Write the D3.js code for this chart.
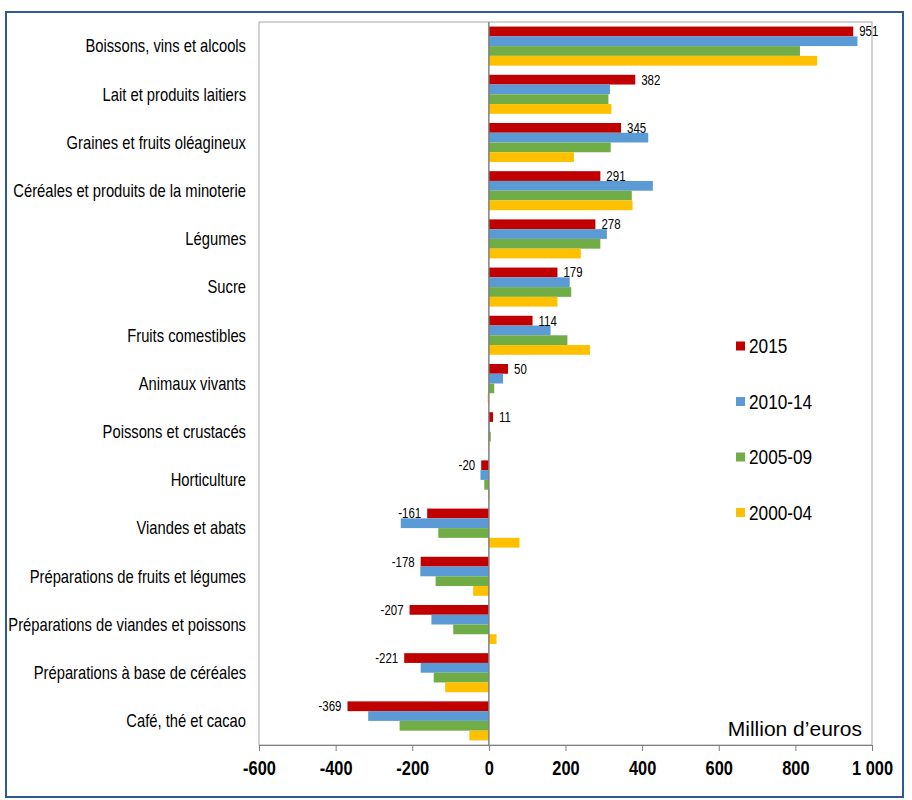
<!DOCTYPE html>
<html>
<head>
<meta charset="utf-8">
<script src="https://cdn.jsdelivr.net/npm/d3@7"></script>
<style>
  body { margin: 0; background: #fff; }
  text { font-family: "Liberation Sans", Arial, sans-serif; fill: #000; }
</style>
</head>
<body>
<div id="chart"></div>
<script>
// data
const categories = [
  "Boissons, vins et alcools",
  "Lait et produits laitiers",
  "Graines et fruits oléagineux",
  "Céréales et produits de la minoterie",
  "Légumes",
  "Sucre",
  "Fruits comestibles",
  "Animaux vivants",
  "Poissons et crustacés",
  "Horticulture",
  "Viandes et abats",
  "Préparations de fruits et légumes",
  "Préparations de viandes et poissons",
  "Préparations à base de céréales",
  "Café, thé et cacao"
];
const seriesNames = ["2015", "2010-14", "2005-09", "2000-04"];
const v2015   = [951, 382, 345, 291, 278, 179, 114, 50, 11, -20, -161, -178, -207, -221, -369];
const v201014 = [962, 316, 416, 428, 308, 211, 161, 37, 2, -22, -230, -179, -150, -178, -315];
const v200509 = [812, 312, 318, 373, 291, 215, 205, 14, 5, -12, -132, -139, -93, -144, -233];
const v200004 = [857, 320, 222, 375, 240, 179, 264, -3, 1, 2, 80, -41, 20, -114, -51];
const xTicks = [-600, -400, -200, 0, 200, 400, 600, 800, 1000];
const unitLabel = "Million d\u2019euros";

const colors = ["#c00000", "#5b9bd5", "#70ad47", "#ffc000"];
const allSeries = [v2015, v201014, v200509, v200004];

// initialization
const W = 912, H = 800;
const plot = {left: 259, right: 872, top: 22, bottom: 745};
const narrow = 0.82; // fake Arial Narrow by squeezing Liberation Sans

const svg = d3.select("#chart")
  .append("svg")
  .attr("width", W)
  .attr("height", H);

// outer frame
svg.append("rect")
  .attr("x", 6).attr("y", 12)
  .attr("width", 897).attr("height", 785)
  .attr("fill", "none")
  .attr("stroke", "#2f5a8f")
  .attr("stroke-width", 2);

const xScale = d3.scaleLinear()
  .domain([-600, 1000])
  .range([plot.left, plot.right]);

const yScale = d3.scaleBand()
  .domain(categories)
  .range([plot.top, plot.bottom])
  .paddingInner(0.19)
  .paddingOuter(0.095);

const ySub = d3.scaleBand()
  .domain(seriesNames)
  .range([0, yScale.bandwidth()]);

// plot area frame
svg.append("rect")
  .attr("x", plot.left).attr("y", plot.top)
  .attr("width", plot.right - plot.left)
  .attr("height", plot.bottom - plot.top)
  .attr("fill", "none")
  .attr("stroke", "#a6a6a6")
  .attr("stroke-width", 1);

// bars
const rows = categories.map((c, i) => ({
  cat: c,
  vals: seriesNames.map((s, k) => ({series: s, k: k, value: allSeries[k][i]}))
}));

const groups = svg.selectAll(".grp")
  .data(rows)
  .join("g")
  .attr("class", "grp")
  .attr("transform", d => `translate(0, ${yScale(d.cat)})`);

groups.selectAll("rect")
  .data(d => d.vals)
  .join("rect")
  .attr("x", d => xScale(Math.min(0, d.value)))
  .attr("y", d => ySub(d.series))
  .attr("width", d => Math.abs(xScale(d.value) - xScale(0)))
  .attr("height", ySub.bandwidth())
  .attr("fill", d => colors[d.k]);

// value labels for 2015
groups.append("text")
  .attr("transform", d => {
    const v = d.vals[0].value;
    const x = v >= 0 ? xScale(v) + 6 : xScale(v) - 6;
    return `translate(${x}, ${ySub("2015") + ySub.bandwidth() / 2}) scale(${narrow}, 1)`;
  })
  .attr("dy", "0.35em")
  .attr("text-anchor", d => d.vals[0].value >= 0 ? "start" : "end")
  .style("font-size", "14px")
  .text(d => d.vals[0].value);

// zero line
svg.append("line")
  .attr("x1", xScale(0)).attr("x2", xScale(0))
  .attr("y1", plot.top).attr("y2", plot.bottom)
  .attr("stroke", "#7f7f7f")
  .attr("stroke-width", 1.5);

// category labels
svg.selectAll(".cat")
  .data(categories)
  .join("text")
  .attr("class", "cat")
  .attr("transform", d => `translate(246, ${yScale(d) + yScale.bandwidth() / 2}) scale(${narrow}, 1)`)
  .attr("dy", "0.35em")
  .attr("text-anchor", "end")
  .style("font-size", "18px")
  .text(d => d);

// x axis
const xAxis = d3.axisBottom(xScale)
  .tickValues(xTicks)
  .tickSize(6)
  .tickPadding(10)
  .tickFormat(d => d === 1000 ? "1 000" : String(d));

const gx = svg.append("g")
  .attr("class", "x-axis")
  .attr("transform", `translate(0, ${plot.bottom})`)
  .call(xAxis);

gx.select(".domain").attr("stroke", "#7f7f7f");
gx.selectAll(".tick line").attr("stroke", "#7f7f7f");
gx.selectAll(".tick text")
  .attr("transform", `scale(${narrow}, 1)`)
  .style("font-size", "20px")
  .style("font-weight", "bold")
  .style("font-family", "'Liberation Sans', Arial, sans-serif");

// legend
const legend = svg.selectAll(".leg")
  .data(seriesNames)
  .join("g")
  .attr("class", "leg")
  .attr("transform", (d, i) => `translate(736, ${346 + i * 55.5})`);

legend.append("rect")
  .attr("x", 0).attr("y", -4.5)
  .attr("width", 9).attr("height", 9)
  .attr("fill", (d, i) => colors[i]);

legend.append("text")
  .attr("transform", `translate(13, 0) scale(${narrow}, 1)`)
  .attr("dy", "0.35em")
  .style("font-size", "21px")
  .text(d => d);

// unit label (regular width)
svg.append("text")
  .attr("x", 862)
  .attr("y", 729)
  .attr("dy", "0.35em")
  .attr("text-anchor", "end")
  .style("font-size", "21px")
  .text(unitLabel);
</script>
</body>
</html>
